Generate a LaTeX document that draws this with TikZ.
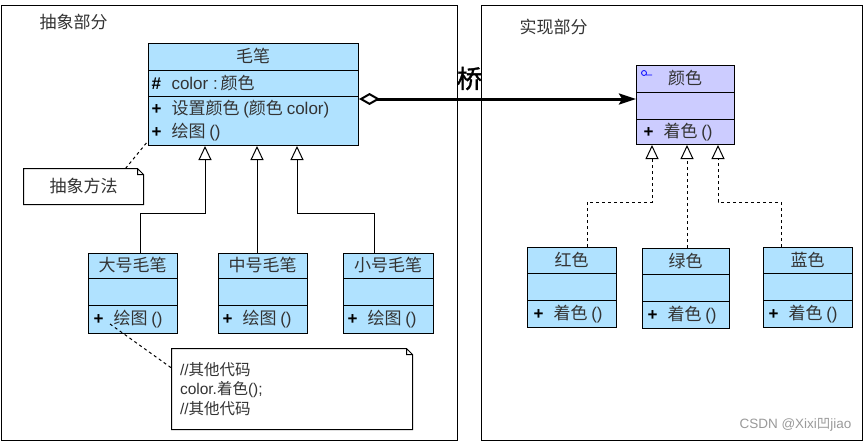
\documentclass[tikz,border=0pt]{standalone}
\usepackage{fontspec}
\usepackage{tikz}
\setmainfont{Noto Sans CJK SC}
\newfontfamily\latinfont{Liberation Sans}
\newfontfamily\qiaofont[FakeBold=1.5]{Noto Sans CJK SC}
\definecolor{penblue}{HTML}{B0E2FF}
\definecolor{lilas}{HTML}{CCCCFF}
\definecolor{icone}{HTML}{0000FF}
\usetikzlibrary{arrows.meta}
\tikzstyle{classe}=[rectangle, draw=black, inner sep=0pt, anchor=north west]
\tikzstyle{texto}=[inner sep=0pt, anchor=base west]
\tikzstyle{nota}=[rectangle, fill=white, inner sep=0pt]
\tikzstyle{heranca}=[-{Triangle[open, fill=white, length=14pt, width=13pt]}]
\tikzstyle{realiza}=[dash pattern=on 3pt off 3pt, -{Triangle[open, fill=white, length=14pt, width=13pt]}]
\tikzstyle{ponte}=[line width=3pt, {Diamond[open, fill=white, line width=2pt, length=21pt, width=12pt]}-{Stealth[length=17pt, width=11pt, inset=3pt]}]
\newcommand{\lat}[1]{{\latinfont #1}}
\newcommand{\sinal}[1]{\makebox[20pt][l]{\latinfont\bfseries\color{black}#1}}

\begin{document}
\begin{tikzpicture}[x=1pt, y=-1pt, line width=1pt, font=\fontsize{17}{20}\selectfont, text=black!80]
			\useasboundingbox (0,0) rectangle (866,444);
			% as duas partes
			\draw (1,6) rectangle (457,440);
			\draw (481,6) rectangle (862,440);
			\node[texto] (abstracao) at (39,29) {抽象部分};
			\node[texto] (implementacao) at (519,34) {实现部分};
			% abstracao
			\node[classe, fill=penblue, minimum width=210pt, minimum height=102pt] (maobi) at (148,43) {};
			\path[draw=black]
				(maobi.west |- 0,70)--(maobi.east |- 0,70)(maobi.west |- 0,96)--(maobi.east |- 0,96);
			\node[texto, anchor=base] (maobi-nome) at (253,63) {毛笔};
			\node[texto] (maobi-attr) at (151,89) {\sinal{\#}\lat{color :}\,颜色};
			\node[texto] (maobi-op1) at (151,114) {\sinal{+}设置颜色 \lat{(}颜色 \lat{color)}};
			\node[texto] (maobi-op2) at (151,137) {\sinal{+}绘图 \lat{()}};
			\node[classe, fill=penblue, minimum width=89pt, minimum height=80pt] (dahao) at (88,253) {};
			\node[classe, fill=penblue, minimum width=89pt, minimum height=80pt] (zhonghao) at (218,253) {};
			\node[classe, fill=penblue, minimum width=90pt, minimum height=80pt] (xiaohao) at (343,253) {};
			\path[draw=black]
				(dahao.west |- 0,278)--(dahao.east |- 0,278)(dahao.west |- 0,305)--(dahao.east |- 0,305)
				(zhonghao.west |- 0,278)--(zhonghao.east |- 0,278)(zhonghao.west |- 0,305)--(zhonghao.east |- 0,305)
				(xiaohao.west |- 0,278)--(xiaohao.east |- 0,278)(xiaohao.west |- 0,305)--(xiaohao.east |- 0,305);
			\node[texto, anchor=base] (dahao-nome) at (132.5,271.5) {大号毛笔};
			\node[texto, anchor=base] (zhonghao-nome) at (262.5,271.5) {中号毛笔};
			\node[texto, anchor=base] (xiaohao-nome) at (388,271.5) {小号毛笔};
			\node[texto] (dahao-op) at (93,324) {\sinal{+}绘图 \lat{()}};
			\node[texto] (zhonghao-op) at (222,324) {\sinal{+}绘图 \lat{()}};
			\node[texto] (xiaohao-op) at (347,324) {\sinal{+}绘图 \lat{()}};
			\draw[heranca] (dahao.north -| 140,0) |- (205,213) -- (maobi.south -| 205,0);
			\draw[heranca] (zhonghao.north -| 257,0) -- (maobi.south -| 257,0);
			\draw[heranca] (xiaohao.north -| 374,0) |- (297,213) -- (maobi.south -| 297,0);
			% notas
			\node[nota, minimum width=119pt, minimum height=35pt] (nota1) at (83.5,186.5) {抽象方法};
			\draw (nota1.south west)--(nota1.north west)--([xshift=-6pt]nota1.north east)--([yshift=-6pt]nota1.north east)--(nota1.south east)--cycle
				([xshift=-6pt]nota1.north east)|-([yshift=-6pt]nota1.north east);
			\draw[dashed] ([xshift=-18pt]nota1.north east) -- ([yshift=5pt]maobi.south west);
			\node[nota, minimum height=80pt, text width=224pt, inner xsep=8pt, align=left, font=\fontsize{15.5}{19.5}\selectfont] (nota2) at (292,389) {\lat{//}其他代码\\\lat{color.}着色\lat{();}\\\lat{//}其他代码};
			\draw (nota2.south west)--(nota2.north west)--([xshift=-6pt]nota2.north east)--([yshift=-6pt]nota2.north east)--(nota2.south east)--cycle
				([xshift=-6pt]nota2.north east)|-([yshift=-6pt]nota2.north east);
			\draw[dashed] ([xshift=22pt, yshift=10pt]dahao.south west) -- ([yshift=21pt]nota2.west);
			% implementacao
			\node[classe, fill=lilas, minimum width=98pt, minimum height=79pt] (yanse) at (636,65) {};
			\path[draw=black]
				(yanse.west |- 0,92)--(yanse.east |- 0,92)(yanse.west |- 0,119)--(yanse.east |- 0,119);
			\draw[icone, line width=0.8pt] ([xshift=8pt, yshift=-8pt]yanse.north west) circle (2.5pt)
				([xshift=10pt, yshift=-10pt]yanse.north west)--([xshift=16pt, yshift=-10pt]yanse.north west);
			\node[texto, anchor=base] (yanse-nome) at (685,84.5) {颜色};
			\node[texto] (yanse-op) at (643,137.5) {\sinal{+}着色 \lat{()}};
			\node[classe, fill=penblue, minimum width=89pt, minimum height=80pt] (hong) at (527,247) {};
			\node[classe, fill=penblue, minimum width=87pt, minimum height=80pt] (lv) at (642,248) {};
			\node[classe, fill=penblue, minimum width=89pt, minimum height=80pt] (lan) at (763,247) {};
			\path[draw=black]
				(hong.west |- 0,273)--(hong.east |- 0,273)(hong.west |- 0,300)--(hong.east |- 0,300)
				(lv.west |- 0,274)--(lv.east |- 0,274)(lv.west |- 0,301)--(lv.east |- 0,301)
				(lan.west |- 0,273)--(lan.east |- 0,273)(lan.west |- 0,300)--(lan.east |- 0,300);
			\node[texto, anchor=base] (hong-nome) at (571.5,266) {红色};
			\node[texto, anchor=base] (lv-nome) at (685.5,267) {绿色};
			\node[texto, anchor=base] (lan-nome) at (807.5,266) {蓝色};
			\node[texto] (hong-op) at (533,319.5) {\sinal{+}着色 \lat{()}};
			\node[texto] (lv-op) at (647,320.5) {\sinal{+}着色 \lat{()}};
			\node[texto] (lan-op) at (768,319.5) {\sinal{+}着色 \lat{()}};
			\draw[realiza] (hong.north -| 587,0) |- (652,202) -- (yanse.south -| 652,0);
			\draw[realiza] (lv.north -| 687,0) -- (yanse.south -| 687,0);
			\draw[realiza] (lan.north -| 781,0) |- (718,202) -- (yanse.south -| 718,0);
			% ponte
			\draw[ponte] (maobi.east |- 0,99) -- (yanse.west |- 0,99);
			\node[font=\qiaofont\fontsize{25}{27}\selectfont, text=black, inner sep=0pt] (qiao) at (469.5,78.5) {桥};
			\node[anchor=east, inner sep=0pt, text=black!40, font=\fontsize{13.5}{15}\selectfont] (marca) at (852,425) {\latinfont CSDN @Xixi{\normalfont 凹}jiao};
		\end{tikzpicture}
\end{document}
